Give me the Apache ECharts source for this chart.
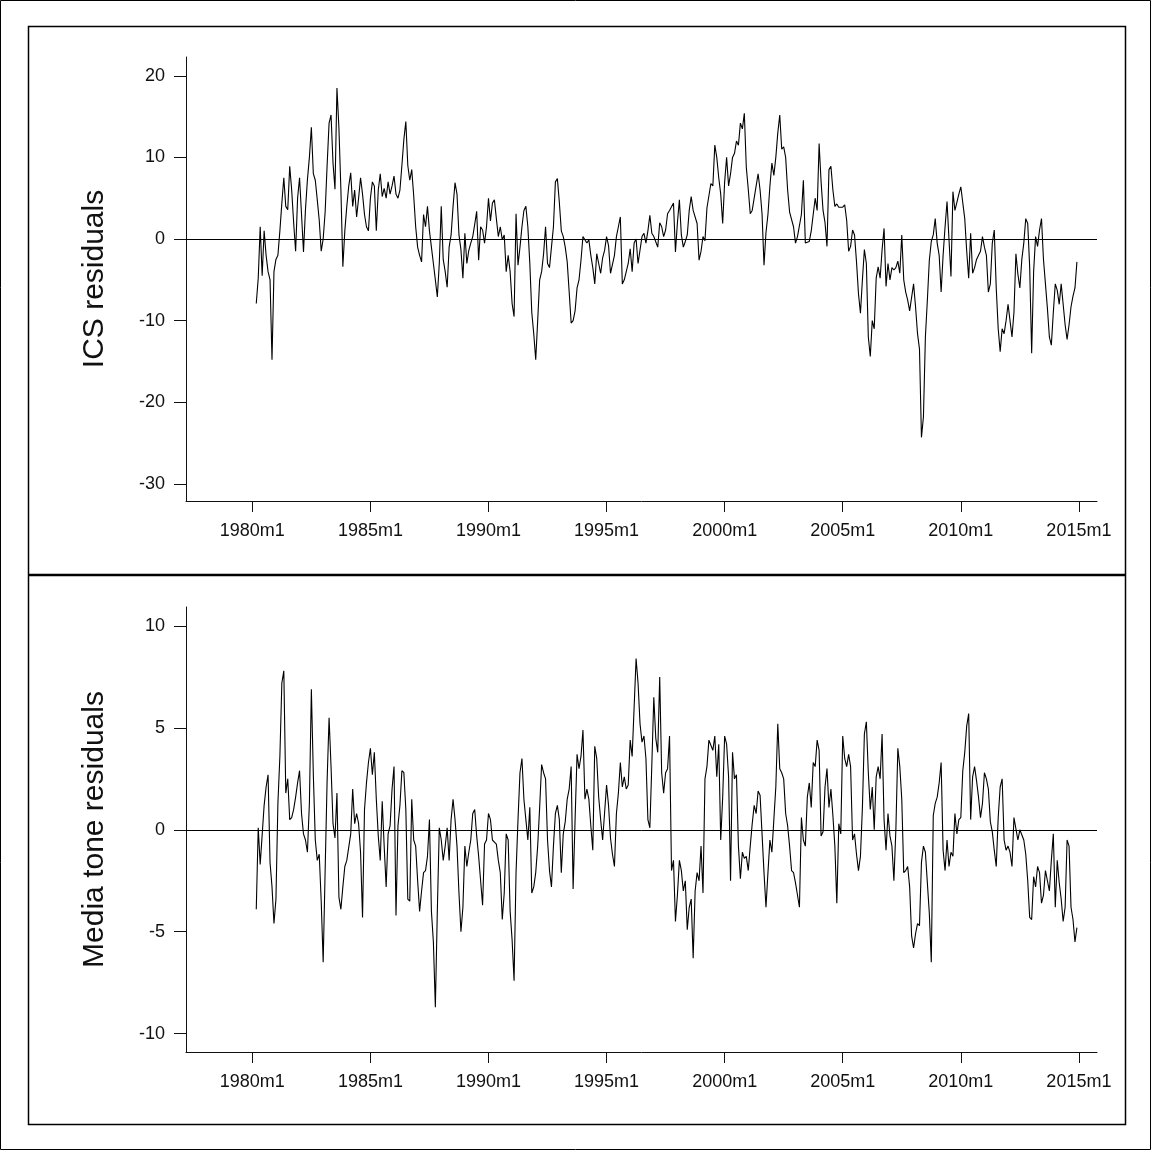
<!DOCTYPE html>
<html>
<head>
<meta charset="utf-8">
<title>ICS and media tone residuals</title>
<script src="https://cdn.jsdelivr.net/npm/echarts@6/dist/echarts.min.js"></script>
<style>
  html, body { margin: 0; padding: 0; background: #fff; }
  #chart { width: 1151px; height: 1150px; }
</style>
</head>
<body>
<div id="chart"></div>
<script>
// monthly residuals, first value is 1980m3 (month index 2, 1980m1 = 0), one row per year
const firstMonth = 2;

const icsResid = [
  -7.9, -4.8, 1.5, -4.5, 1, -2, -4, -5, -14.8, -4,                    // 1980
  -2.5, -2, 1, 4.4, 7.5, 4, 3.6, 8.9, 6, 2, -1.5, 5,                   // 1981
  7.5, 3, -1.6, 3.6, 7.3, 10, 13.7, 8, 7.2, 4.8, 2.3, -1.5,            // 1982
  0, 3.3, 9, 14.2, 15.2, 9.3, 6.1, 18.5, 13.6, 6.1, -3.4, 1,           // 1983
  4, 6.5, 8.1, 4, 6, 2.7, 5, 7.5, 5.5, 3, 1.5, 1,                      // 1984
  5, 7, 6.5, 1, 6, 8, 5.2, 6.2, 5, 7, 5.5, 6.5,                        // 1985
  7.7, 5.5, 5, 6, 9, 12.2, 14.4, 9, 7.2, 8.5, 5.3, 1.5,                // 1986
  -1, -2, -2.8, 3, 1.5, 4, 1, -1, -3, -5, -7.1, -3,                    // 1987
  4, -2.5, -4, -5.9, -1, 0.5, 4, 6.9, 5.5, 0.5, -1.3, -4.8,            // 1988
  0.7, -3, -1.4, -0.5, 0.3, 1.8, 3.4, -2.6, 1.5, 1.1, -0.5, 1.5,       // 1989
  5, 2.2, 4.4, 4.8, 2.5, 0.3, 1.5, -0.1, 0.5, -4, -2, -4,              // 1990
  -7.9, -9.5, 3.1, -3.2, -1, 1.5, 3.5, 4, 1.5, -3, -9, -11.6,          // 1991
  -14.8, -10, -5, -4, -1.8, 1.5, -3, -3.5, -1, 1.5, 7, 7.4,            // 1992
  4.5, 1, 0.3, -1, -2.8, -6.5, -10.3, -10, -8.8, -6, -5, -2.6,         // 1993
  0.3, 0.5, -0.5, -0.1, -2, -3.5, -5.5, -1.8, -3, -4.2, -2.3, -1.4,    // 1994
  0.3, -0.8, -4.2, -4, -2, 0.3, 1.5, 2.7, -5.5, -5, -4, -3,            // 1995
  -1.2, -4, -0.5, 0, -3, -3, 0.3, 0.7, -0.5, 1, 2.9, 0.7,              // 1996
  0.3, 0.5, -1, 2, 1.5, 0.3, 1.1, 3.1, 3.5, 3.5, 4.4, -1.6,            // 1997
  2, 4.8, 0.5, -1, -0.3, 0.5, 3.5, 5.2, 3.5, 3.5, 1.9, -2.6,           // 1998
  -1.5, 0.3, -0.2, 3.8, 5.3, 6.8, 6.5, 11.5, 10, 7.5, 5.5, 1.9,        // 1999
  7, 10, 6.5, 8, 10, 10.5, 12, 11.5, 14.2, 13.5, 15.4, 8.8,            // 2000
  6.1, 3.1, 3.5, 5, 6.5, 8, 6, 3.1, -3.2, 0.8, 3, 6.5,                 // 2001
  9.3, 7.8, 10, 13, 15.2, 11, 11.3, 10, 6, 3.3, 3.1, 1.5,              // 2002
  -0.5, 0.3, 0.3, 3, 7.2, -0.5, -0.5, -0.3, 1, 3, 5, 3.5,              // 2003
  11.7, 7, 3.5, 2, -0.9, 8.5, 8.9, 6, 4, 4.3, 3.9, 4,                  // 2004
  3.9, 4.2, 2.3, -1.5, -0.9, 1.1, 0.5, -2.8, -6.7, -9.1, -5, -1.3,     // 2005
  -3, -12, -14.4, -10, -11, -4.8, -3.4, -4.8, -1.3, 1.3, -5.8, -3,     // 2006
  -5, -3.5, -3.8, -3.5, -2.7, -4.2, 0.5, -5, -6.5, -7.5, -8.8, -9,     // 2007
  -5.5, -8.3, -11.6, -13.5, -24.3, -21.8, -12, -7.5, -2.6, -0.3, 0.5, 2.5, // 2008
  -0.5, -2, -6.5, -2, 1.5, 4.6, -0.1, -4.6, 5.8, 3.5, 4.5, 5.5,        // 2009
  6.4, 6.4, 2.5, -1.5, -4.8, 0.7, -4.2, -3.5, -2.5, -2, -1.5, 0.3,     // 2010
  -1, -2, -6.5, -5.5, -0.5, 1.1, -6, -11, -13.8, -11, -11.6, -10,      // 2011
  -8, -10, -12, -9, -1.8, -4.3, -6, -2.5, -0.5, 2.5, 1.9, -3.5,        // 2012
  -14, -4, 0.3, -0.9, 1.1, 2.5, -2.5, -5.5, -8.5, -12, -13, -9,        // 2013
  -5.5, -6.3, -8, -5.5, -8, -10.5, -12.3, -10.5, -8.3, -7, -6, -2.8    // 2014
];

const toneResid = [
  -3.9, 0.1, -1.7, -1.7, 1.2, 2.1, 2.7, -1.6, -2.8, -4.6,              // 1980
  -3.4, 1.3, 3.6, 7.2, 7.8, 1.8, 2.5, 0.5, 0.6, 1, 1.6, 2.3,           // 1981
  2.9, 0.8, -0.2, -0.5, -1.1, 1.3, 6.9, 2.7, -0.5, -1.5, -1.2, -3.5,   // 1982
  -6.5, -2, 2.4, 5.5, 3.1, 0.3, -0.4, 1.8, -3.3, -3.9, -2.8, -1.8,     // 1983
  -1.5, -1.5, -0.2, 2, 0.3, 0.8, 0.3, -1.1, -4.3, 1, 2.3, 3.3,         // 1984
  4, 2.7, 3.8, 1.5, -0.3, -1.5, 1.4, -0.8, -2.8, -0.2, 0.2, 2,         // 1985
  3.1, -4.2, 0.2, 1.2, 2.9, 2.8, 1, -3.4, -3.5, 1.5, -0.5, -0.8,       // 1986
  -2.5, -4, -3, -2.1, -2, -1.3, 0.5, -4, -5.5, -8.7, -4, 0.1,          // 1987
  -0.5, -1.5, -0.8, 0.1, -1.5, 0.5, 1.5, 0.5, -0.8, -3.1, -5, -3.8,    // 1988
  -0.8, -1.8, -1.1, -0.5, 0.8, 1, -0.3, -1.3, -2.5, -3.7, -0.7, -0.5,  // 1989
  0.8, 0.5, -0.5, -0.6, -0.7, -1.5, -2.1, -4.4, -3.1, -0.2, -0.5, -4,  // 1990
  -5.4, -7.4, -2.1, 0.5, 2.8, 3.5, 1.5, 0.5, -0.5, 1.1, -3.1, -2.8,    // 1991
  -2.1, -0.8, 1.1, 3.2, 2.8, 2.5, -0.5, -2, -2.8, -0.8, 0.8, 1.2,      // 1992
  0.5, -2.1, -0.2, 0.4, 1.5, 2, 3.1, -2.9, 0.5, 3.7, 3, 3.6,           // 1993
  4.9, 1.5, 2, 1.5, 0.2, -1, 4.1, 3.5, 1.6, 0.5, -0.5, -0.5,           // 1994
  2.2, 1.2, -0.4, -1.2, -1.8, 0.8, 1.8, 3.3, 2.1, 2.6, 2, 2.2,         // 1995
  4.4, 3.6, 3.6, 8.4, 7.2, 5.2, 4.3, 4.6, 3.5, 0.5, 0.1, 3.2,          // 1996
  6.5, 4.5, 3.8, 7.5, 2.8, 1.8, 2.8, 3, 4.6, -2, -1.5, -4.5,           // 1997
  -3.2, -1.5, -2, -3, -2.5, -4.9, -3.8, -3.4, -6.3, -3, -2.1, -2.5,    // 1998
  -0.8, -3.1, 2.5, 3.1, 4.4, 4.4, 3.9, 4.6, 2.6, 4.2, -0.5, 1.6,       // 1999
  4.6, 4.2, 2.6, -2.5, 3.8, 2.5, 2.7, -0.8, -2.4, -1.1, -1.4, -1.3,    // 2000
  -2, -0.8, 0.3, 1.2, 0.8, 1.9, 1.7, -0.2, -2.1, -3.8, -2.1, -0.5,     // 2001
  -1.1, 0.5, 2.1, 5.2, 3, 2.8, 2.5, 0.8, 0.2, -0.8, -2, -2.1,          // 2002
  -2.6, -3.2, -3.8, 0.6, -0.5, -0.8, 1.6, 2.3, 1.1, 3.3, 3.1, 4.4,     // 2003
  3.9, -0.3, -0.1, 2.1, 3, 1.1, 2, 0.7, -0.8, -3.6, 0.3, -0.2,         // 2004
  4.6, 3.5, 3.1, 3.7, 3.1, -0.5, -0.2, -1.2, -2, -1.3, 1.1, 4.7,       // 2005
  5.3, 2.8, 1, 2.1, 0, 2.6, 3.1, 2.5, 4.7, 0.5, -1, 0.8,               // 2006
  -0.3, -0.8, -2.5, 0, 4, 3.1, 1.5, -2.1, -2, -1.8, -2.8, -5.2,        // 2007
  -5.8, -5.1, -4.6, -4.7, -1.6, -0.8, -1.1, -1.1, -4.1, -6.5, 0.7, 1.3, // 2008
  1.6, 2.3, 3.3, -1, -2, -0.5, -1.8, -1.1, -1.3, 0.8, -0.2, 0.5,       // 2009
  0.6, 2.9, 3.8, 5.1, 5.7, 0.5, 2.6, 3.1, 2.4, 1.6, 0.6, 1.3,          // 2010
  2.8, 2.5, 2, 0.4, -0.1, -1, -1.8, 0.6, 2.1, 2.5, -0.5, -1,           // 2011
  -0.8, -1.1, -1.8, 0.6, 0.6, -0.5, 0, 0, -0.5, -1.2, -2.5, -4.3,      // 2012
  -4.4, -2.3, -2.8, -1.8, -2.1, -3.6, -3.2, -2, -2.5, -3, -1.5, -0.2,  // 2013
  -3.8, -1.5, -2.6, -3.4, -4.5, -3.8, -0.5, -0.8, -3.8, -4.4, -5.5, -4.8 // 2014
];

// tick positions (months since 1980m1) and their labels
const xTicks = [0, 60, 120, 180, 240, 300, 360, 420];
const xTickLabels = ['1980m1', '1985m1', '1990m1', '1995m1', '2000m1', '2005m1', '2010m1', '2015m1'];
const icsTicks = [-30, -20, -10, 0, 10, 20];
const toneTicks = [-10, -5, 0, 5, 10];

function toPairs(values) {
  return values.map(function (v, i) { return [firstMonth + i, v]; });
}

const font = 'Arial, "Liberation Sans", sans-serif';
const ink = '#111';

function xAxisFor(gridIndex) {
  return {
    type: 'value',
    gridIndex: gridIndex,
    position: 'bottom',
    min: -33.7,
    max: 429.2,
    splitLine: { show: false },
    axisLine: { show: true, onZero: false, lineStyle: { color: ink, width: 1 } },
    axisTick: { show: true, length: 11, customValues: xTicks, lineStyle: { color: ink } },
    axisLabel: {
      show: true,
      customValues: xTicks,
      margin: 21,
      fontSize: 18,
      fontFamily: font,
      color: ink,
      formatter: function (v) { return xTickLabels[xTicks.indexOf(v)]; }
    }
  };
}

function yAxisFor(gridIndex, name, min, max, ticks) {
  return {
    type: 'value',
    gridIndex: gridIndex,
    position: 'left',
    min: min,
    max: max,
    name: name,
    nameLocation: 'middle',
    nameGap: 76,
    nameTextStyle: { fontSize: 30, fontFamily: font, color: ink },
    splitLine: { show: false },
    axisLine: { show: true, onZero: false, lineStyle: { color: ink, width: 1 } },
    axisTick: { show: true, length: 12, customValues: ticks, lineStyle: { color: ink } },
    axisLabel: {
      show: true,
      customValues: ticks,
      margin: 21,
      fontSize: 18,
      fontFamily: font,
      color: ink
    }
  };
}

function lineFor(idx, values) {
  return {
    type: 'line',
    xAxisIndex: idx,
    yAxisIndex: idx,
    data: toPairs(values),
    showSymbol: false,
    symbol: 'none',
    lineStyle: { color: '#000', width: 1.1 },
    silent: true,
    markLine: {
      silent: true,
      symbol: 'none',
      label: { show: false },
      lineStyle: { color: '#000', width: 1, type: 'solid' },
      data: [{ yAxis: 0 }]
    }
  };
}

const chart = echarts.init(document.getElementById('chart'));
chart.setOption({
  animation: false,
  backgroundColor: '#fff',
  grid: [
    { left: 186, right: 54, top: 57, bottom: 649 },
    { left: 186, right: 54, top: 607, bottom: 98 }
  ],
  xAxis: [xAxisFor(0), xAxisFor(1)],
  yAxis: [
    yAxisFor(0, 'ICS residuals', -32.1, 22.3, icsTicks),
    yAxisFor(1, 'Media tone residuals', -10.9, 10.93, toneTicks)
  ],
  series: [lineFor(0, icsResid), lineFor(1, toneResid)],
  graphic: [
    // outer and inner frames, divider between the two panels
    { type: 'rect', shape: { x: 0.5, y: 0.5, width: 1150, height: 1149 }, style: { fill: 'none', stroke: '#000', lineWidth: 1 } },
    { type: 'rect', shape: { x: 28.5, y: 26.5, width: 1097, height: 1098 }, style: { fill: 'none', stroke: '#000', lineWidth: 1.5 } },
    { type: 'line', shape: { x1: 28, y1: 575, x2: 1126, y2: 575 }, style: { stroke: '#000', lineWidth: 2.5 } }
  ]
});

window.addEventListener('resize', function () {
  chart.resize();
});
</script>
</body>
</html>
